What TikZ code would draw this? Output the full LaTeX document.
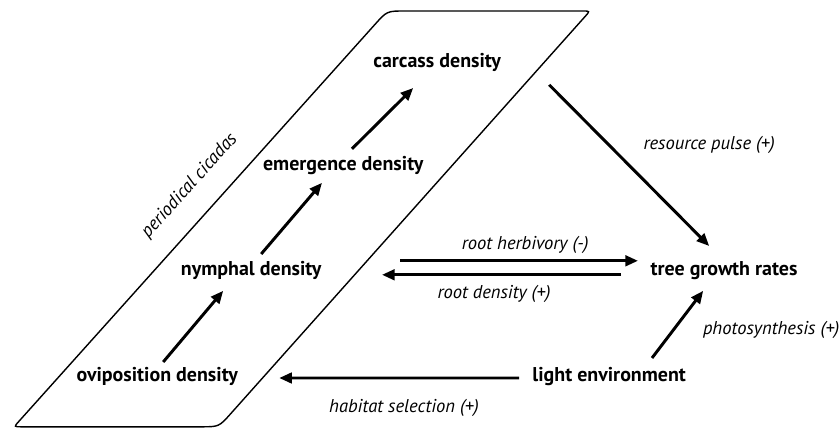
\documentclass[tikz,border=0pt]{standalone}
\usepackage{fontspec}
\setmainfont{PT Sans}
\usetikzlibrary{arrows.meta,calc}

\tikzset{
  densidad/.style={font=\fontsize{14.2}{16}\selectfont\bfseries, inner sep=2pt},
  efecto/.style={font=\fontsize{13.2}{15}\selectfont\itshape, inner sep=1pt},
  flecha/.style={line width=2.1pt, -{Triangle[length=9pt,width=7.5pt]}},
}

\begin{document}
\begin{tikzpicture}
\useasboundingbox (0,0) rectangle (21,10.7);

\coordinate (TL) at (9.675,10.425);
\coordinate (TR) at (14.75,10.425);
\coordinate (BR) at (5.475,0.03);
\coordinate (BL) at (0.35,0.03);

% Recuadro de las cigarras
\draw[line width=1pt] ($(TL)!0.45cm!(BL)$) .. controls (TL) .. ($(TL)!0.45cm!(TR)$)
  -- ($(TR)!0.18cm!(TL)$) .. controls (TR) .. ($(TR)!0.18cm!(BR)$)
  -- ($(BR)!0.45cm!(TR)$) .. controls (BR) .. ($(BR)!0.45cm!(BL)$)
  -- ($(BL)!0.18cm!(BR)$) .. controls (BL) .. ($(BL)!0.18cm!(TL)$) -- cycle;

\node[densidad] (carcass) at (10.93,9.15) {carcass density};
\node[densidad] (emergence) at (8.58,6.55) {emergence density};
\node[densidad] (nymphal) at (6.28,3.93) {nymphal density};
\node[densidad] (oviposition) at (3.93,1.30) {oviposition density};
\node[densidad] (tree) at (18.1,3.93) {tree growth rates};
\node[densidad] (light) at (15.23,1.28) {light environment};

\node[efecto] (pulse) at (17.73,7.08) {resource pulse (+)};
\node[efecto] (herbivory) at (13.13,4.58) {root herbivory (-)};
\node[efecto] (roots) at (12.35,3.35) {root density (+)};
\node[efecto] (photo) at (19.28,2.45) {photosynthesis (+)};
\node[efecto] (habitat) at (10.1,0.5) {habitat selection (+)};
\node[efecto, rotate=48] (cicadas) at (4.74,6.05) {periodical cicadas};

% Flechas
\draw[flecha] ($(oviposition)+(0.15,0.35)$) -- ($(nymphal)+(-0.70,-0.50)$);
\draw[flecha] ($(nymphal)+(0.25,0.42)$) -- ($(emergence)+(-0.53,-0.42)$);
\draw[flecha] ($(emergence)+(0.22,0.43)$) -- ($(carcass)+(-0.60,-0.65)$);
\draw[flecha] ($(carcass)+(2.8,-0.57)$) -- ($(tree)+(-0.37,0.62)$);
\draw[flecha] ($(nymphal)+(3.72,0.25)$) -- ($(tree)+(-2.15,0.25)$);
\draw[flecha] ($(tree)+(-2.57,-0.10)$) -- ($(nymphal)+(3.27,-0.10)$);
\draw[flecha] ($(light)+(1.07,0.47)$) -- ($(tree)+(-0.52,-0.50)$);
\draw[flecha] ($(light)+(-2.25,-0.03)$) -- ($(oviposition)+(3.05,-0.05)$);

\end{tikzpicture}
\end{document}
